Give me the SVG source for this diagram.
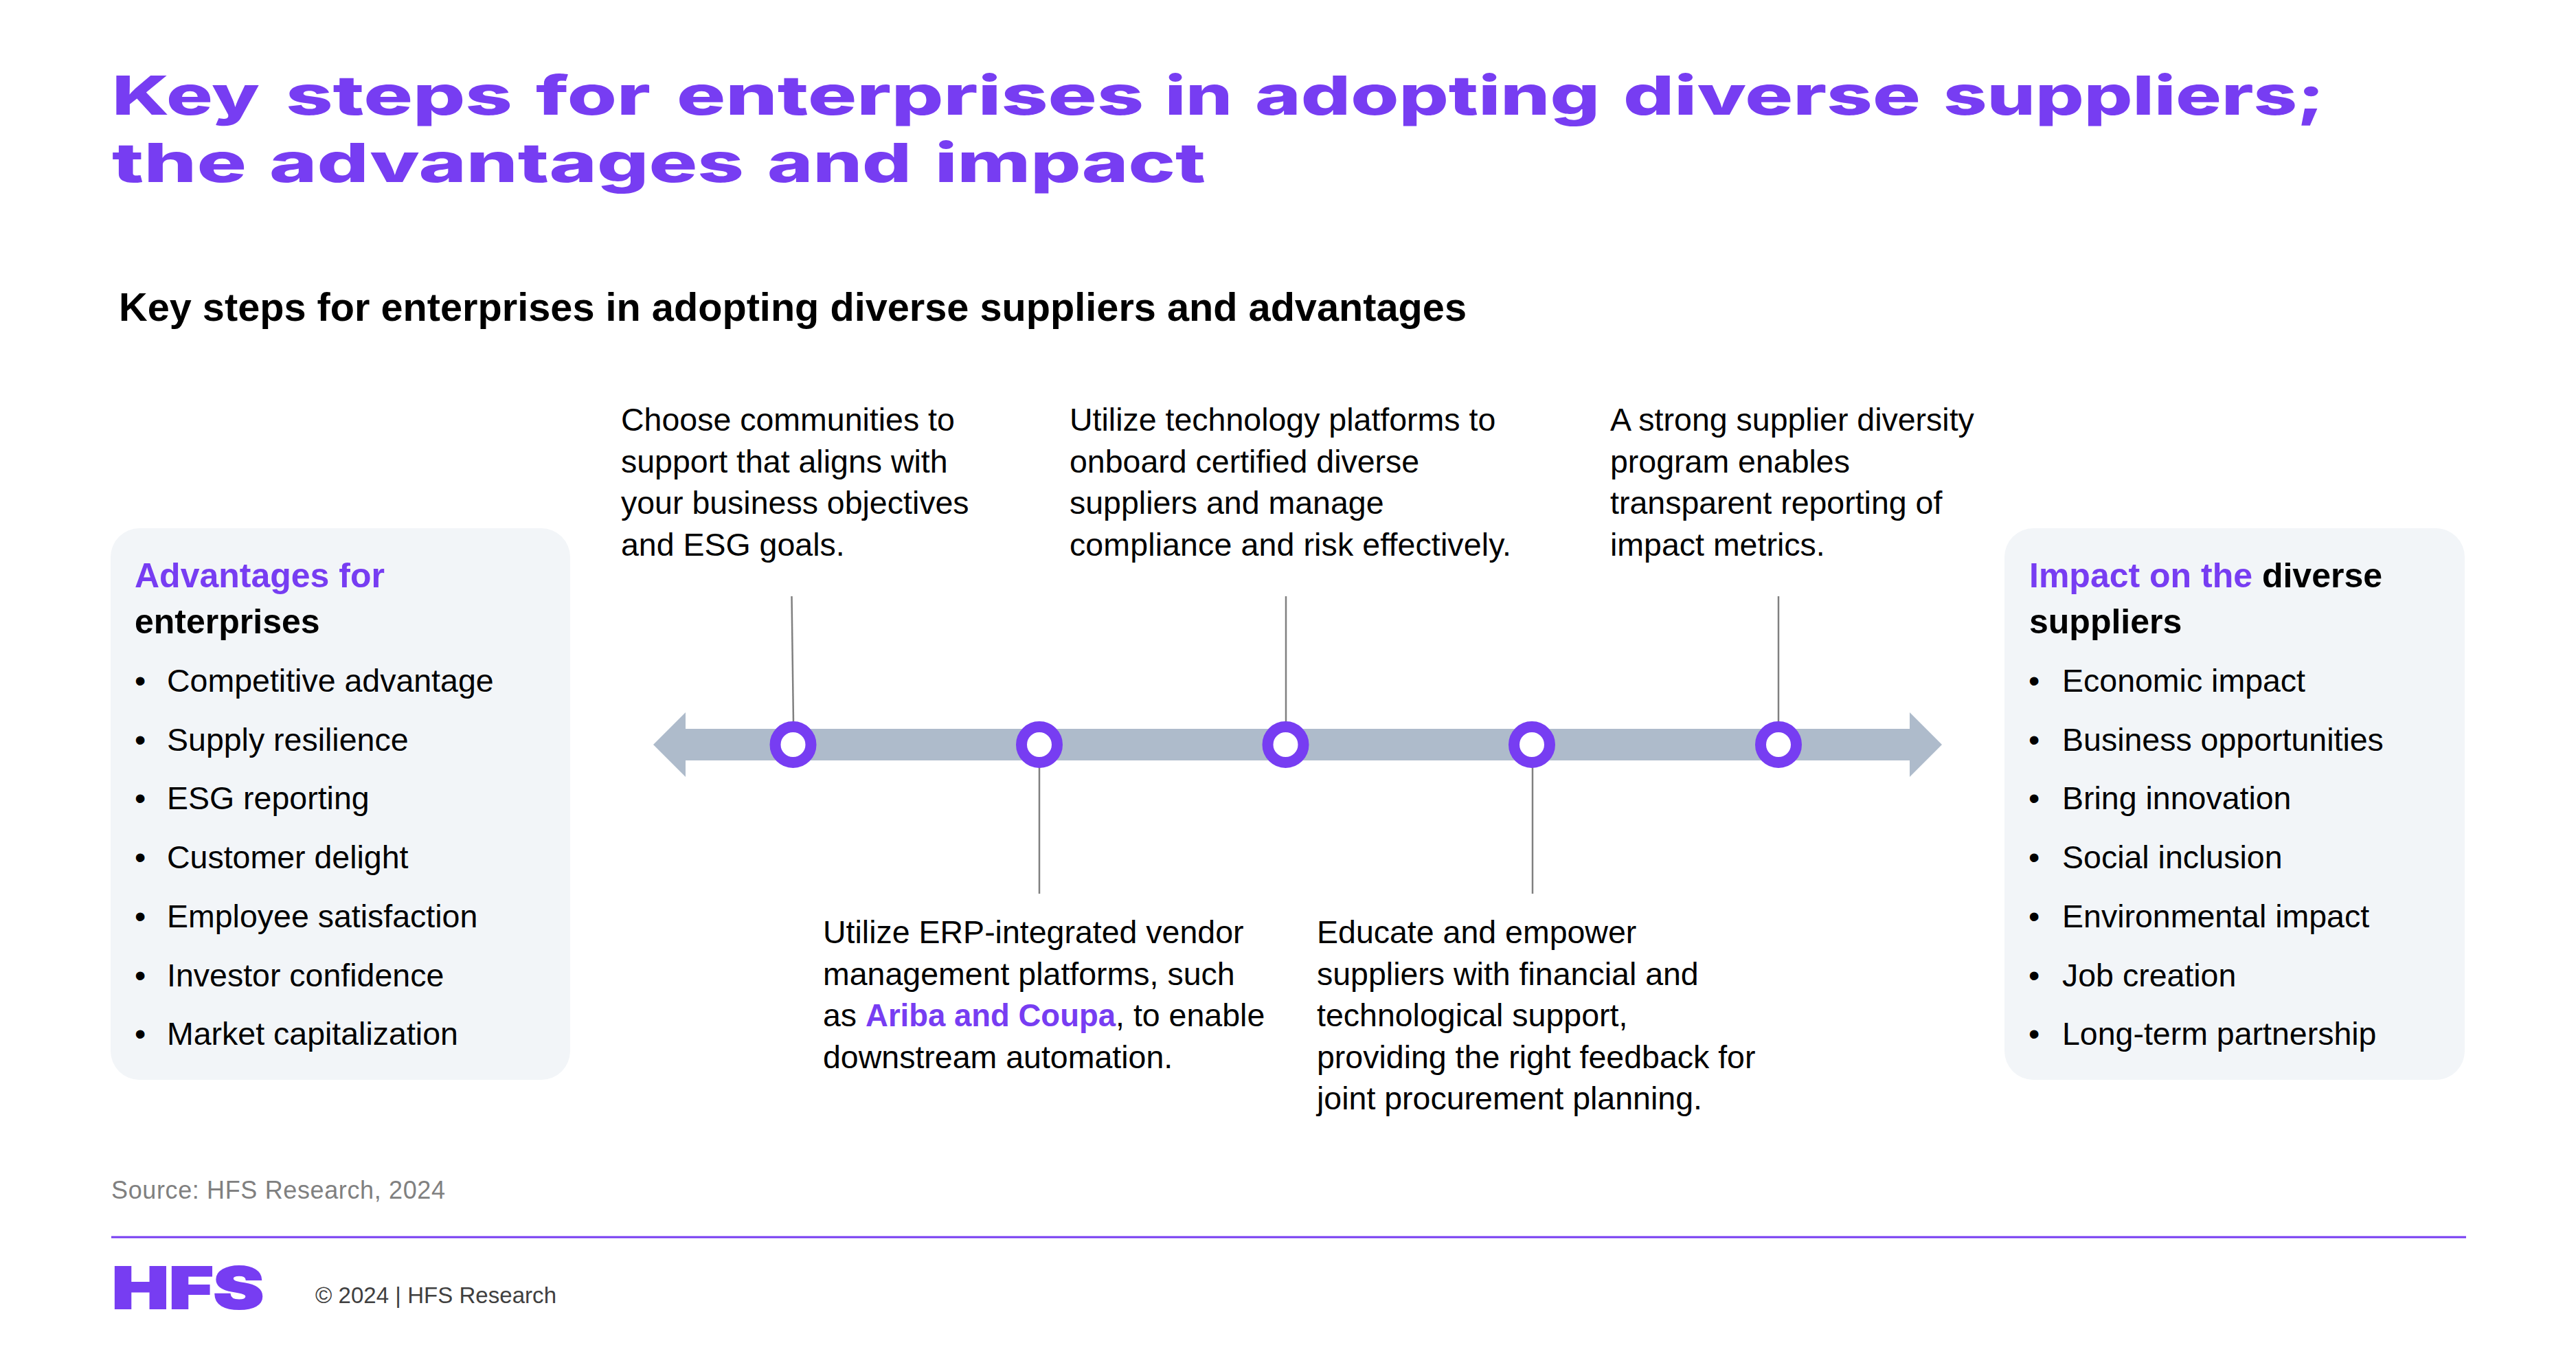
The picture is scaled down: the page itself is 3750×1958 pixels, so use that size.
<svg xmlns="http://www.w3.org/2000/svg" width="3750" height="1958" viewBox="0 0 3750 1958">
<style>
text{font-family:"Liberation Sans",Arial,sans-serif;fill:#000}
.t{font-family:Inter,"Liberation Sans",sans-serif;font-weight:800;font-size:79px;fill:#773DF2}
.s{font-weight:700;font-size:57.7px}
.b{font-size:46.5px}
.h{font-weight:700;font-size:50px}
.p{fill:#773DF2}
.panel{fill:#F2F5F8}
.c{stroke:#808080;stroke-width:2.5;fill:none}
.ring{fill:#fff;stroke:#773DF2;stroke-width:16}
</style>
<rect width="3750" height="1958" fill="#fff"/>
<g id="title">
<text class="t" y="167"><tspan x="163" textLength="215" lengthAdjust="spacingAndGlyphs">Key</tspan> <tspan x="416" textLength="330" lengthAdjust="spacingAndGlyphs">steps</tspan> <tspan x="780" textLength="167" lengthAdjust="spacingAndGlyphs">for</tspan> <tspan x="985" textLength="680" lengthAdjust="spacingAndGlyphs">enterprises</tspan> <tspan x="1696" textLength="98" lengthAdjust="spacingAndGlyphs">in</tspan> <tspan x="1827" textLength="502" lengthAdjust="spacingAndGlyphs">adopting</tspan> <tspan x="2363" textLength="433" lengthAdjust="spacingAndGlyphs">diverse</tspan> <tspan x="2829" textLength="555" lengthAdjust="spacingAndGlyphs">suppliers;</tspan></text>
<text class="t" y="265"><tspan x="163" textLength="196" lengthAdjust="spacingAndGlyphs">the</tspan> <tspan x="392" textLength="691" lengthAdjust="spacingAndGlyphs">advantages</tspan> <tspan x="1117" textLength="210" lengthAdjust="spacingAndGlyphs">and</tspan> <tspan x="1361" textLength="394" lengthAdjust="spacingAndGlyphs">impact</tspan></text>
</g>
<text id="subtitle" class="s" x="173" y="467">Key steps for enterprises in adopting diverse suppliers and advantages</text>
<g id="advantages">
<rect class="panel" x="161" y="769" width="669" height="803" rx="42"/>
<text class="h p" x="196" y="855">Advantages for</text>
<text class="h" x="196" y="922">enterprises</text>
<text class="b" x="196" y="1007">•</text><text class="b" x="243" y="1007">Competitive advantage</text>
<text class="b" x="196" y="1093">•</text><text class="b" x="243" y="1093">Supply resilience</text>
<text class="b" x="196" y="1178">•</text><text class="b" x="243" y="1178">ESG reporting</text>
<text class="b" x="196" y="1264">•</text><text class="b" x="243" y="1264">Customer delight</text>
<text class="b" x="196" y="1350">•</text><text class="b" x="243" y="1350">Employee satisfaction</text>
<text class="b" x="196" y="1436">•</text><text class="b" x="243" y="1436">Investor confidence</text>
<text class="b" x="196" y="1521">•</text><text class="b" x="243" y="1521">Market capitalization</text>
</g>
<g id="impact">
<rect class="panel" x="2918" y="769" width="670" height="803" rx="42"/>
<text class="h" x="2954" y="855"><tspan class="p">Impact on the</tspan> diverse</text>
<text class="h" x="2954" y="922">suppliers</text>
<text class="b" x="2953" y="1007">•</text><text class="b" x="3002" y="1007">Economic impact</text>
<text class="b" x="2953" y="1093">•</text><text class="b" x="3002" y="1093">Business opportunities</text>
<text class="b" x="2953" y="1178">•</text><text class="b" x="3002" y="1178">Bring innovation</text>
<text class="b" x="2953" y="1264">•</text><text class="b" x="3002" y="1264">Social inclusion</text>
<text class="b" x="2953" y="1350">•</text><text class="b" x="3002" y="1350">Environmental impact</text>
<text class="b" x="2953" y="1436">•</text><text class="b" x="3002" y="1436">Job creation</text>
<text class="b" x="2953" y="1521">•</text><text class="b" x="3002" y="1521">Long-term partnership</text>
</g>
<g id="timeline-arrow">
<path d="M951 1084L998 1037V1061H2780V1037L2827 1084L2780 1131V1107H998V1131Z" fill="#AEBBCB"/>
</g>
<g id="connectors">
<line class="c" x1="1152.5" y1="868" x2="1155" y2="1052"/>
<line class="c" x1="1513" y1="1116" x2="1513" y2="1301"/>
<line class="c" x1="1872" y1="868" x2="1872" y2="1052"/>
<line class="c" x1="2231" y1="1116" x2="2231" y2="1301"/>
<line class="c" x1="2589" y1="868" x2="2589" y2="1052"/>
</g>
<g id="step1"><circle class="ring" cx="1154.5" cy="1084" r="26"/>
<text class="b" x="904" y="627">Choose communities to</text><text class="b" x="904" y="688">support that aligns with</text><text class="b" x="904" y="748">your business objectives</text><text class="b" x="904" y="809">and ESG goals.</text></g>
<g id="step2"><circle class="ring" cx="1513" cy="1084" r="26"/>
<text class="b" x="1198" y="1373">Utilize ERP-integrated vendor</text><text class="b" x="1198" y="1434">management platforms, such</text><text class="b" x="1198" y="1494">as <tspan class="p" font-weight="700" font-size="45.5px" style="font-size:45.5px">Ariba and Coupa</tspan>, to enable</text><text class="b" x="1198" y="1555">downstream automation.</text></g>
<g id="step3"><circle class="ring" cx="1871.5" cy="1084" r="26"/>
<text class="b" x="1557" y="627">Utilize technology platforms to</text><text class="b" x="1557" y="688">onboard certified diverse</text><text class="b" x="1557" y="748">suppliers and manage</text><text class="b" x="1557" y="809" textLength="643">compliance and risk effectively.</text></g>
<g id="step4"><circle class="ring" cx="2230" cy="1084" r="26"/>
<text class="b" x="1917" y="1373">Educate and empower</text><text class="b" x="1917" y="1434">suppliers with financial and</text><text class="b" x="1917" y="1494">technological support,</text><text class="b" x="1917" y="1555">providing the right feedback for</text><text class="b" x="1917" y="1615">joint procurement planning.</text></g>
<g id="step5"><circle class="ring" cx="2589" cy="1084" r="26"/>
<text class="b" x="2344" y="627">A strong supplier diversity</text><text class="b" x="2344" y="688">program enables</text><text class="b" x="2344" y="748">transparent reporting of</text><text class="b" x="2344" y="809">impact metrics.</text></g>
<g id="footer">
<text x="162" y="1745" font-size="36" style="fill:#808080" textLength="486">Source: HFS Research, 2024</text>
<line x1="162" y1="1801" x2="3590" y2="1801" stroke="#773DF2" stroke-width="3"/>
<text x="163" y="1905" font-size="84" font-weight="900" stroke="#773DF2" stroke-width="2" style="font-family:Inter,sans-serif;fill:#773DF2" textLength="221" lengthAdjust="spacingAndGlyphs">HFS</text>
<text x="459" y="1897" font-size="33" style="fill:#404040" textLength="351">© 2024 | HFS Research</text>
</g>
</svg>
